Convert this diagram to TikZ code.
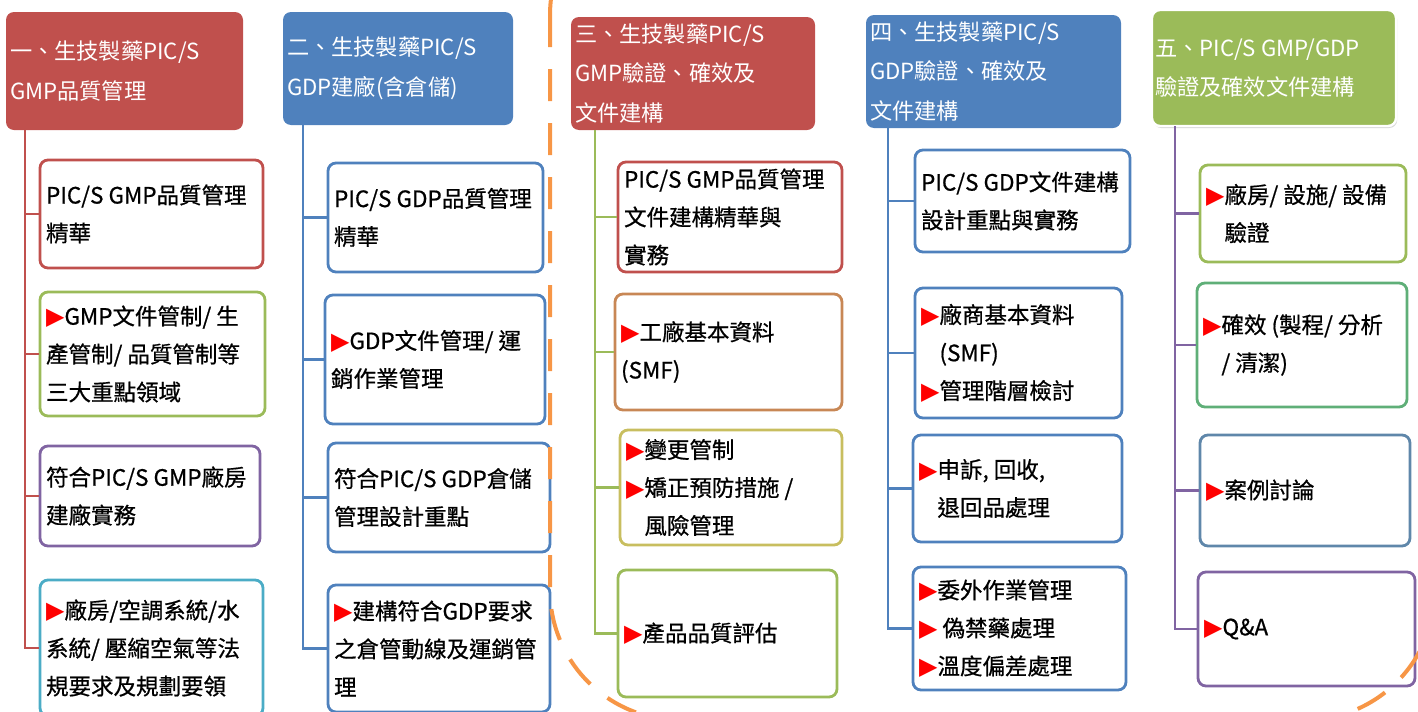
\documentclass[tikz,border=0pt]{standalone}
\usepackage{fontspec}
\usepackage{xcolor}
\usetikzlibrary{fit,shadows}
\setmainfont{Noto Sans CJK TC}
\newfontfamily\itemfont{Noto Sans CJK TC}[FakeBold=0.7]
\newfontfamily\trifont{DejaVu Sans}
\definecolor{hdred}{HTML}{C0504D}
\definecolor{hdblue}{HTML}{4F81BD}
\definecolor{hdgreen}{HTML}{9BBB59}
\definecolor{hdpurple}{HTML}{8064A2}
\definecolor{bxteal}{HTML}{4BACC6}
\definecolor{bxbrown}{RGB}{200,135,85}
\definecolor{bxolive}{RGB}{200,190,95}
\definecolor{bxmint}{RGB}{95,175,120}
\definecolor{bxsteel}{RGB}{95,135,170}
\definecolor{ringorange}{HTML}{F79646}
\newcommand{\redtri}{{\trifont\fontsize{17pt}{17pt}\selectfont\textcolor{red}{▶}}}
\newcommand{\triskip}{\hphantom{\redtri}}

\begin{document}
\begin{tikzpicture}[x=0.025cm, y=-0.025cm,
    header/.style={fill=#1, rounded corners=0.2cm, inner sep=0pt},
    headtext/.style={anchor=west, align=left, inner xsep=0.1cm, inner ysep=0pt,
      text=white, font=\fontsize{15.8pt}{28pt}\selectfont},
    itembox/.style={draw=#1, line width=0.07cm, fill=white, rounded corners=0.2cm, inner sep=0pt},
    itemtext/.style={anchor=west, align=left, inner xsep=0.18cm, inner ysep=0pt,
      font=\itemfont\fontsize{16pt}{27pt}\selectfont},
    trunk/.style={draw=#1, line width=0.07cm}]
  \useasboundingbox (0,0) rectangle (1418,711);

  % column 1
  \node[header=hdred, fit={(6,12) (243,130)}] (h1) {};
  \node[headtext] (h1t) at (h1.west) {一、生技製藥PIC/S\\GMP品質管理};
  \node[itembox=hdred, fit={(40,160) (263,268)}] (g1a) {};
  \node[itemtext] (g1at) at (g1a.west) {PIC/S GMP品質管理\\精華};
  \node[itembox=hdgreen, fit={(40,292) (265,416)}] (g1b) {};
  \node[itemtext] (g1bt) at (g1b.west) {\redtri GMP文件管制/ 生\\產管制/ 品質管制等\\三大重點領域};
  \node[itembox=hdpurple, fit={(40,446) (260,546)}] (g1c) {};
  \node[itemtext] (g1ct) at (g1c.west) {符合PIC/S GMP廠房\\建廠實務};
  \node[itembox=bxteal, fit={(40,580) (263,716)}] (g1d) {};
  \node[itemtext] (g1dt) at (g1d.west) {\redtri 廠房/空調系統/水\\系統/ 壓縮空氣等法\\規要求及規劃要領};
  \coordinate (t1) at (25,130);
  \draw[trunk=hdred] (t1) |- (g1a.west);
  \draw[trunk=hdred] (t1) |- (g1b.west);
  \draw[trunk=hdred] (t1) |- (g1c.west);
  \draw[trunk=hdred] (t1) |- (g1d.west);

  % column 2
  \node[header=hdblue, fit={(283,12) (513,125)}] (h2) {};
  \node[headtext] (h2t) at (h2.west) {二、生技製藥PIC/S\\GDP建廠(含倉儲)};
  \node[itembox=hdblue, fit={(328,163) (543,272)}] (g2a) {};
  \node[itemtext] (g2at) at (g2a.west) {PIC/S GDP品質管理\\精華};
  \node[itembox=hdblue, fit={(325,295) (545,424)}] (g2b) {};
  \node[itemtext] (g2bt) at (g2b.west) {\redtri GDP文件管理/ 運\\銷作業管理};
  \node[itembox=hdblue, fit={(328,443) (550,552)}] (g2c) {};
  \node[itemtext] (g2ct) at (g2c.west) {符合PIC/S GDP倉儲\\管理設計重點};
  \node[itembox=hdblue, fit={(328,585) (550,712)}] (g2d) {};
  \node[itemtext] (g2dt) at (g2d.west) {\redtri 建構符合GDP要求\\之倉管動線及運銷管\\理};
  \coordinate (t2) at (303,125);
  \draw[trunk=hdblue] (t2) |- (g2a.west);
  \draw[trunk=hdblue] (t2) |- (g2b.west);
  \draw[trunk=hdblue] (t2) |- (g2c.west);
  \draw[trunk=hdblue] (t2) |- (g2d.west);

  % column 3
  \node[header=hdred, fit={(571,17) (815,130)}] (h3) {};
  \node[headtext] (h3t) at (h3.west) {三、生技製藥PIC/S\\GMP驗證、確效及\\文件建構};
  \node[itembox=hdred, fit={(618,162) (842,272)}] (g3a) {};
  \node[itemtext] (g3at) at (g3a.west) {PIC/S GMP品質管理\\文件建構精華與\\實務};
  \node[itembox=bxbrown, fit={(615,294) (842,410)}] (g3b) {};
  \node[itemtext] (g3bt) at (g3b.west) {\redtri 工廠基本資料\\(SMF)};
  \node[itembox=bxolive, fit={(620,430) (842,545)}] (g3c) {};
  \node[itemtext] (g3ct) at (g3c.west) {\redtri 變更管制\\\redtri 矯正預防措施 /\\\triskip 風險管理};
  \node[itembox=hdgreen, fit={(618,570) (837,697)}] (g3d) {};
  \node[itemtext] (g3dt) at (g3d.west) {\redtri 產品品質評估};
  \coordinate (t3) at (595,130);
  \draw[trunk=hdgreen] (t3) |- (g3a.west);
  \draw[trunk=hdgreen] (t3) |- (g3b.west);
  \draw[trunk=hdgreen] (t3) |- (g3c.west);
  \draw[trunk=hdgreen] (t3) |- (g3d.west);

  % column 4
  \node[header=hdblue, fit={(866,15) (1121,128)}] (h4) {};
  \node[headtext] (h4t) at (h4.west) {四、生技製藥PIC/S\\GDP驗證、確效及\\文件建構};
  \node[itembox=hdblue, fit={(915,150) (1130,252)}] (g4a) {};
  \node[itemtext] (g4at) at (g4a.west) {PIC/S GDP文件建構\\設計重點與實務};
  \node[itembox=hdblue, fit={(915,288) (1122,418)}] (g4b) {};
  \node[itemtext] (g4bt) at (g4b.west) {\redtri 廠商基本資料\\\triskip(SMF)\\\redtri 管理階層檢討};
  \node[itembox=hdblue, fit={(913,435) (1122,542)}] (g4c) {};
  \node[itemtext] (g4ct) at (g4c.west) {\redtri 申訴, 回收,\\\triskip 退回品處理};
  \node[itembox=hdblue, fit={(913,567) (1126,690)}] (g4d) {};
  \node[itemtext] (g4dt) at (g4d.west) {\redtri 委外作業管理\\\redtri\ 偽禁藥處理\\\redtri 溫度偏差處理};
  \coordinate (t4) at (888,128);
  \draw[trunk=hdblue] (t4) |- (g4a.west);
  \draw[trunk=hdblue] (t4) |- (g4b.west);
  \draw[trunk=hdblue] (t4) |- (g4c.west);
  \draw[trunk=hdblue] (t4) |- (g4d.west);

  % column 5
  \node[header=hdgreen, draw=white, line width=0.06cm,
    drop shadow={shadow xshift=0.03cm, shadow yshift=-0.05cm, opacity=0.3},
    fit={(1152,10) (1396,126)}] (h5) {};
  \node[headtext] (h5t) at (h5.west) {五、PIC/S GMP/GDP\\驗證及確效文件建構};
  \node[itembox=hdgreen, fit={(1200,165) (1406,262)}] (g5a) {};
  \node[itemtext] (g5at) at (g5a.west) {\redtri 廠房/ 設施/ 設備\\\triskip 驗證};
  \node[itembox=bxmint, fit={(1197,283) (1407,407)}] (g5b) {};
  \node[itemtext] (g5bt) at (g5b.west) {\redtri 確效 (製程/ 分析\\\triskip/ 清潔)};
  \node[itembox=bxsteel, fit={(1200,435) (1410,546)}] (g5c) {};
  \node[itemtext] (g5ct) at (g5c.west) {\redtri 案例討論};
  \node[itembox=hdpurple, fit={(1198,572) (1415,686)}] (g5d) {};
  \node[itemtext] (g5dt) at (g5d.west) {\redtri Q\&A};
  \coordinate (t5) at (1175,126);
  \draw[trunk=hdpurple] (t5) |- (g5a.west);
  \draw[trunk=hdpurple] (t5) |- (g5b.west);
  \draw[trunk=hdpurple] (t5) |- (g5c.west);
  \draw[trunk=hdpurple] (t5) |- (g5d.west);

  % dashed ring round columns 3 to 5
  \draw[ringorange, line width=0.1cm, dash pattern=on 0.8cm off 0.55cm, rounded corners=3.25cm]
    (550,-115) rectangle (1435,720);
\end{tikzpicture}
\end{document}
